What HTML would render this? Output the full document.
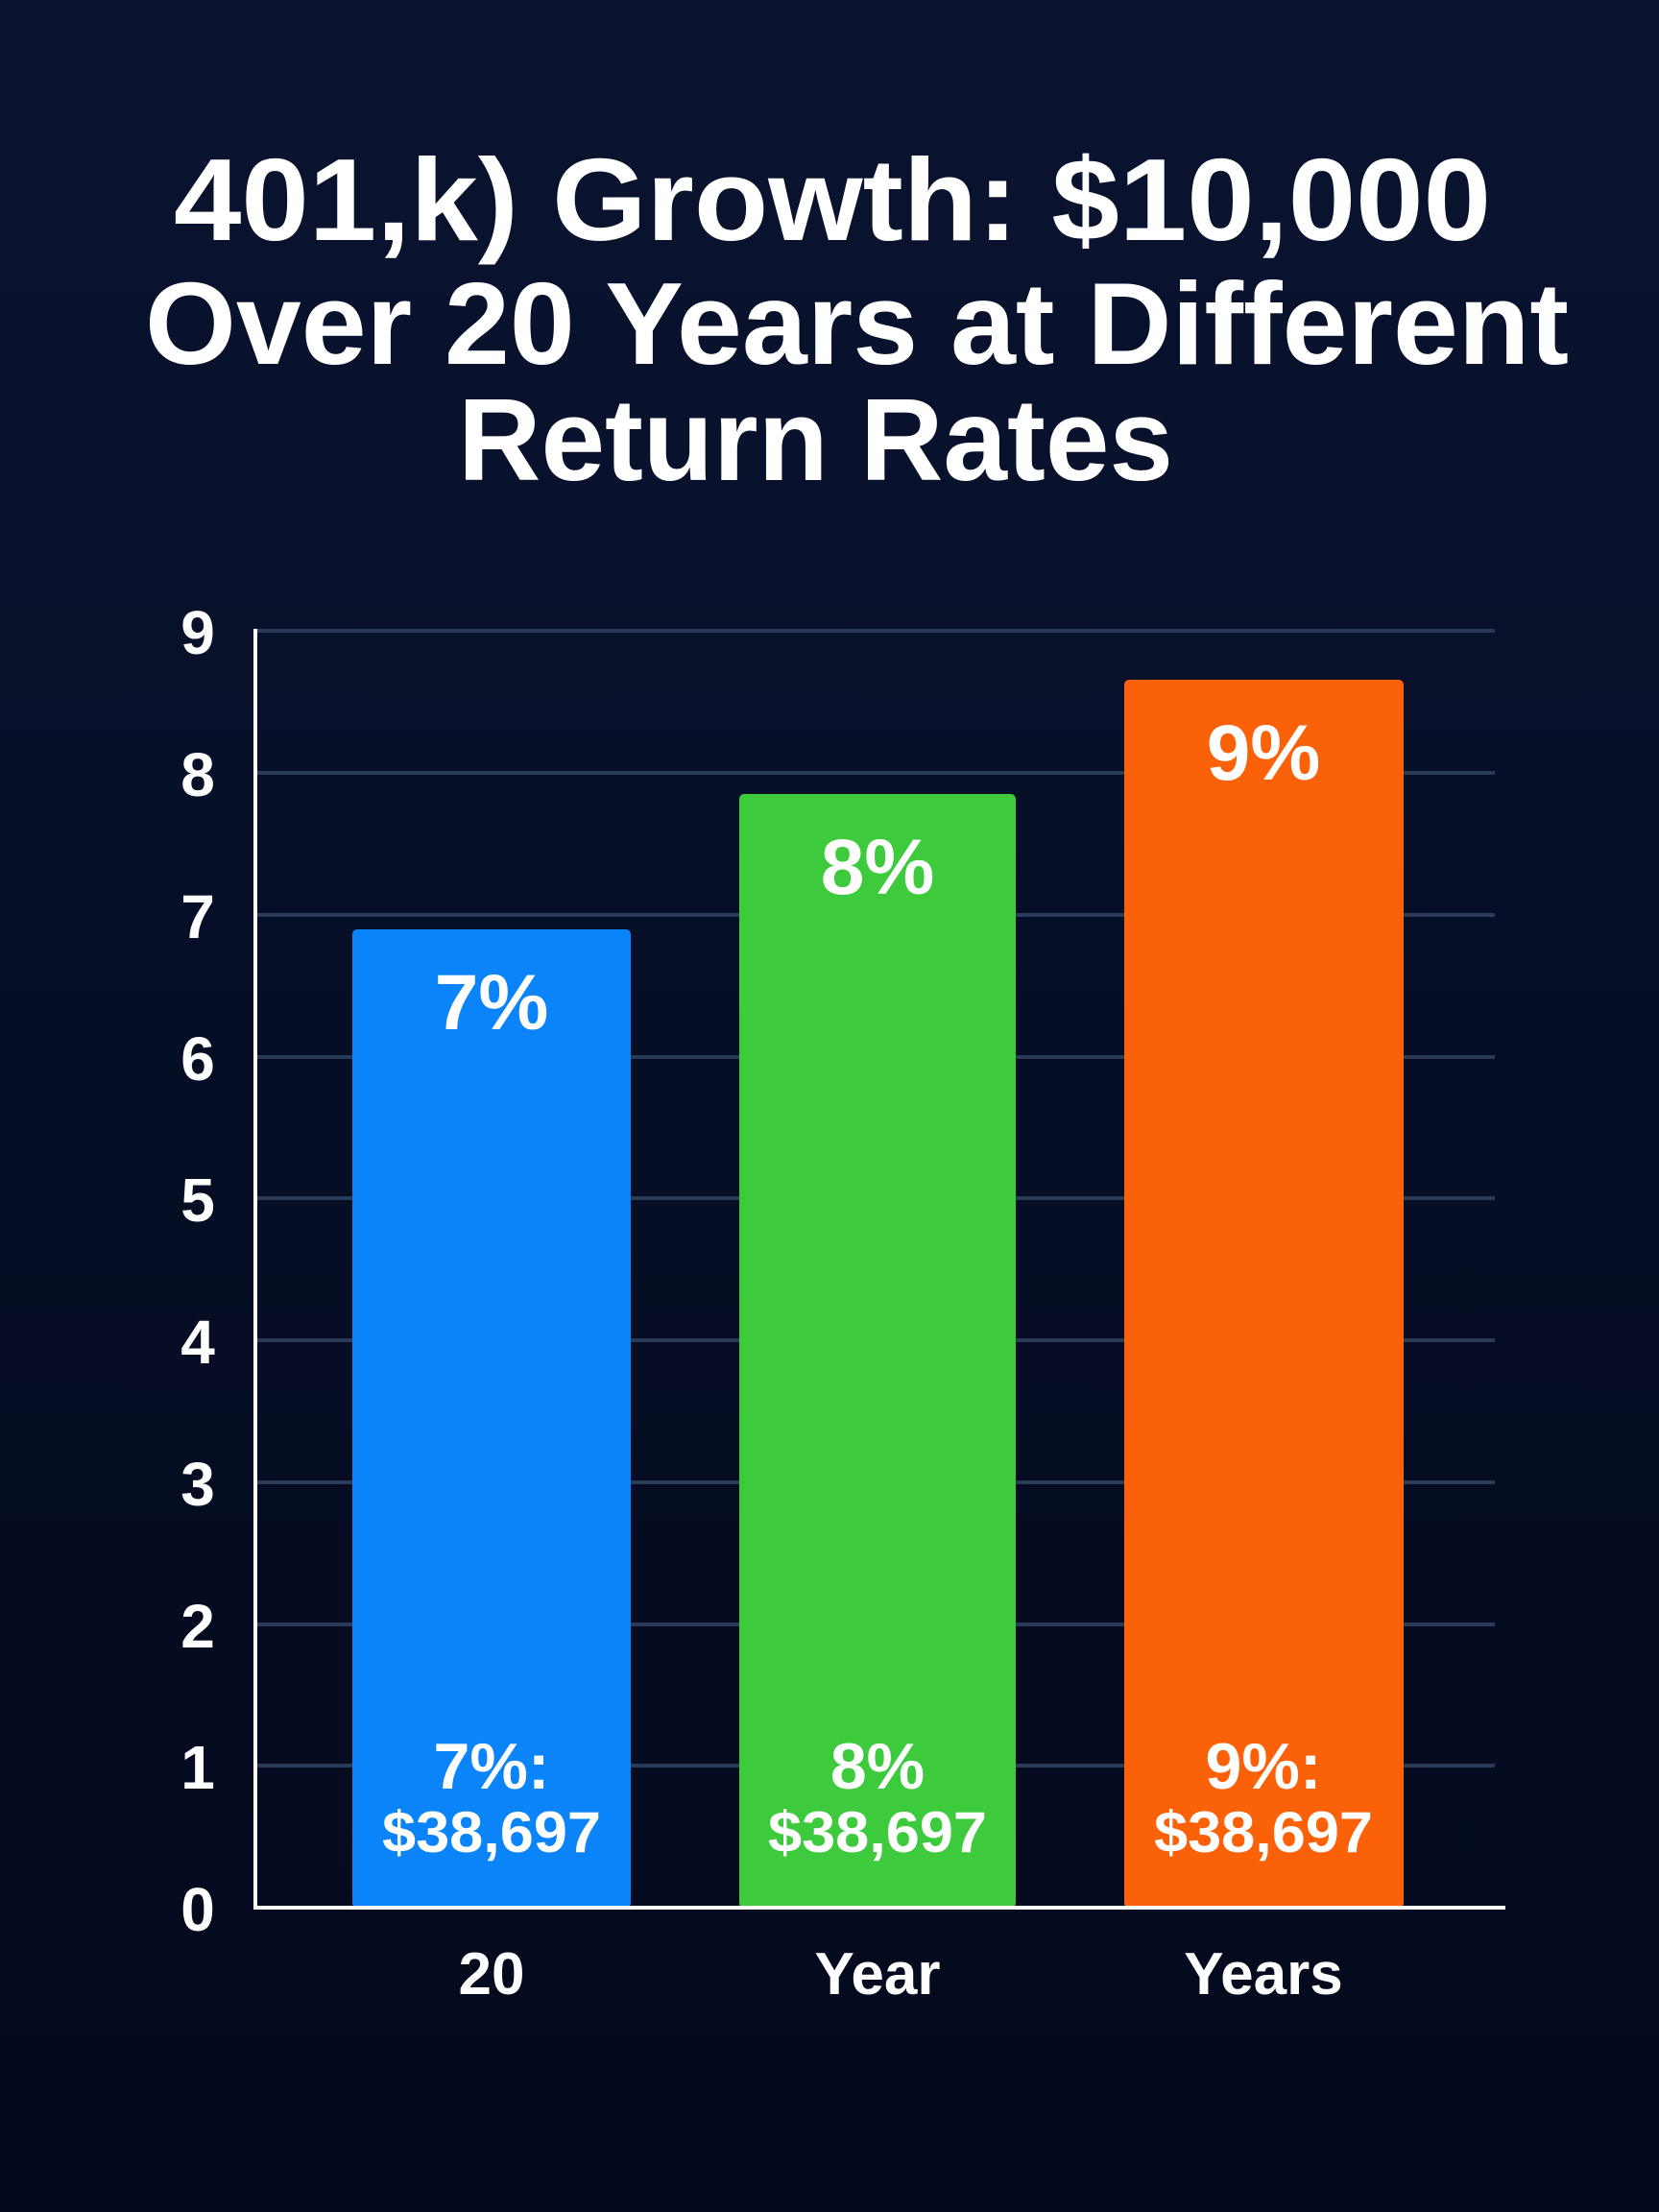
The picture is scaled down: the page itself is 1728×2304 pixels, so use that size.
<!DOCTYPE html>
<html><head><meta charset="utf-8"><style>
html,body{margin:0;padding:0;width:1728px;height:2304px;overflow:hidden;background:#050c22}
svg{display:block}
text{font-family:"Liberation Sans",sans-serif;font-weight:bold;fill:#fff}
</style></head><body>
<svg width="1728" height="2304" viewBox="0 0 1728 2304">
<defs><linearGradient id="bg" x1="0" y1="0" x2="0" y2="1"><stop offset="0" stop-color="#0a1430"/><stop offset="0.5" stop-color="#060e26"/><stop offset="1" stop-color="#040a1d"/></linearGradient></defs>
<rect width="1728" height="2304" fill="url(#bg)"/>
<text x="181" y="250" font-size="122" textLength="1372" lengthAdjust="spacingAndGlyphs">401,k) Growth: $10,000</text>
<text x="151" y="379" font-size="122" textLength="1483" lengthAdjust="spacingAndGlyphs">Over 20 Years at Different</text>
<text x="477" y="500" font-size="122" textLength="745" lengthAdjust="spacingAndGlyphs">Return Rates</text>
<g stroke="#2b3a56" stroke-width="4">
<line x1="268" y1="657" x2="1557" y2="657"/><line x1="268" y1="805" x2="1557" y2="805"/>
<line x1="268" y1="953" x2="1557" y2="953"/><line x1="268" y1="1101" x2="1557" y2="1101"/>
<line x1="268" y1="1248" x2="1557" y2="1248"/><line x1="268" y1="1396" x2="1557" y2="1396"/>
<line x1="268" y1="1544" x2="1557" y2="1544"/><line x1="268" y1="1692" x2="1557" y2="1692"/>
<line x1="268" y1="1839" x2="1557" y2="1839"/>
</g>
<rect x="367" y="968" width="290" height="1019" rx="5" fill="#0a84f8"/>
<rect x="770" y="827" width="288" height="1160" rx="5" fill="#3dca3d"/>
<rect x="1171" y="708" width="291" height="1279" rx="5" fill="#fb6108"/>
<line x1="266" y1="655" x2="266" y2="1989" stroke="#fff" stroke-width="4"/>
<line x1="264" y1="1987" x2="1568" y2="1987" stroke="#fff" stroke-width="4"/>
<g font-size="64" text-anchor="middle">
<text x="206" y="681">9</text><text x="206" y="829">8</text><text x="206" y="977">7</text>
<text x="206" y="1125">6</text><text x="206" y="1272">5</text><text x="206" y="1420">4</text>
<text x="206" y="1568">3</text><text x="206" y="1716">2</text><text x="206" y="1863">1</text>
<text x="206" y="2011">0</text>
</g>
<g font-size="82" text-anchor="middle">
<text x="512" y="1072">7%</text><text x="914" y="931">8%</text><text x="1316" y="812">9%</text>
</g>
<g font-size="68" text-anchor="middle">
<text x="512" y="1863">7%:</text><text x="914" y="1863">8%</text><text x="1316" y="1863">9%:</text>
</g>
<g font-size="60" text-anchor="middle">
<text x="512" y="1929" textLength="228" lengthAdjust="spacingAndGlyphs">$38,697</text>
<text x="914" y="1929" textLength="228" lengthAdjust="spacingAndGlyphs">$38,697</text>
<text x="1316" y="1929" textLength="228" lengthAdjust="spacingAndGlyphs">$38,697</text>
</g>
<g font-size="62" text-anchor="middle">
<text x="512" y="2077">20</text><text x="914" y="2077">Year</text><text x="1316" y="2077">Years</text>
</g>
</svg>
</body></html>
